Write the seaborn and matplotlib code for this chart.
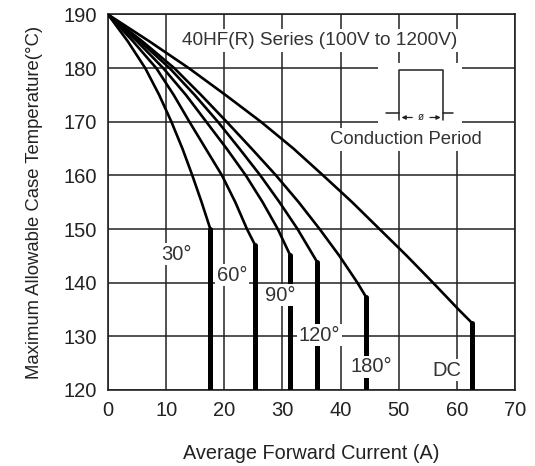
import matplotlib
matplotlib.use("Agg")
import matplotlib.pyplot as plt
import matplotlib.patches as patches
import seaborn as sns
import pandas as pd

# curve data (average forward current A, case temp degC)
labels = ["30°", "60°", "90°", "120°", "180°", "DC"]
cur_30 = [0, 3.4, 6.4, 8.8, 10.9, 12.8, 14.5, 16.1, 17.6]
tc_30 = [190, 185, 180, 175, 170, 165, 160, 155, 150]
cur_60 = [0, 4.3, 8.3, 11.3, 14.0, 16.8, 19.6, 21.9, 23.9, 25.3]
tc_60 = [190, 185, 180, 175, 170, 165, 160, 155, 150, 147.0]
cur_90 = [0, 5.0, 9.5, 13.4, 16.9, 20.4, 23.7, 26.6, 29.2, 31.3]
tc_90 = [190, 185, 180, 175, 170, 165, 160, 155, 150, 145.2]
cur_120 = [0, 5.5, 10.6, 14.9, 18.9, 22.6, 26.2, 29.5, 32.6, 36.0]
tc_120 = [190, 185, 180, 175, 170, 165, 160, 155, 150, 143.8]
cur_180 = [0, 5.9, 11.4, 16.0, 20.4, 24.7, 28.9, 32.8, 36.4, 39.8, 42.9, 44.4]
tc_180 = [190, 185, 180, 175, 170, 165, 160, 155, 150, 145, 140, 137.3]
cur_dc = [0, 7.1, 13.9, 20.2, 26.3, 31.9, 37.0, 42.0, 46.7, 51.4, 55.9, 60.3, 62.6]
tc_dc = [190, 185, 180, 175, 170, 165, 160, 155, 150, 145, 140, 135, 132.5]

# label positions for each curve
label_x = [11.8, 21.3, 29.6, 36.4, 45.3, 58.2]
label_y = [145.3, 141.4, 137.7, 130.2, 124.3, 123.7]

x_ticks = [0, 10, 20, 30, 40, 50, 60, 70]
y_ticks = [120, 130, 140, 150, 160, 170, 180, 190]

currents = [cur_30, cur_60, cur_90, cur_120, cur_180, cur_dc]
temps = [tc_30, tc_60, tc_90, tc_120, tc_180, tc_dc]

sns.set_style("white")
plt.rcParams["font.family"] = ["Liberation Sans", "DejaVu Sans"]

fig = plt.figure(figsize=(5.35, 4.66), dpi=100)
ax = fig.add_axes([0.2019, 0.1631, 0.7607, 0.8058])

for cur, tc in zip(currents, temps):
    df = pd.DataFrame({"I": cur, "T": tc})
    sns.lineplot(data=df, x="I", y="T", sort=False, estimator=None,
                 color="black", lw=1.9, ax=ax, zorder=3)
    # bold drop at the max current
    drop = pd.DataFrame({"I": [cur[-1], cur[-1]], "T": [tc[-1], y_ticks[0]]})
    sns.lineplot(data=drop, x="I", y="T", sort=False, estimator=None,
                 color="black", lw=3.6, ax=ax, zorder=3)

for lab, lx, ly in zip(labels, label_x, label_y):
    ax.text(lx, ly, lab, fontsize=14.5, color="#333333", ha="center", va="center",
            zorder=6, bbox=dict(facecolor="white", edgecolor="none", pad=1))

ax.set_xlim(0, 70)
ax.set_ylim(120, 190)
ax.set_xticks(x_ticks)
ax.set_yticks(y_ticks)
ax.grid(True, color="#222222", lw=1.1)
ax.set_axisbelow(True)
ax.tick_params(length=0, pad=8, labelsize=14.5, colors="#222222")
for s in ax.spines.values():
    s.set_color("#222222")
    s.set_linewidth(1.2)

ax.set_xlabel("Average Forward Current (A)", fontsize=14.3, color="#222222", labelpad=17)
ax.set_ylabel("Maximum Allowable Case Temperature(°C)", fontsize=13.3, color="#222222", labelpad=15)

# title box
ax.text(36.4, 185.2, "40HF(R) Series (100V to 1200V)", fontsize=13.7, color="#333333",
        ha="center", va="center", zorder=6,
        bbox=dict(facecolor="white", edgecolor="none", pad=2))

# conduction period inset
ax.add_patch(patches.Rectangle((46.4, 164.7), 14.4, 16.3, facecolor="white",
                               edgecolor="none", zorder=2))
ax.plot([47.8, 50.0, 50.0, 57.7, 57.7, 59.3],
        [171.7, 171.7, 179.6, 179.6, 171.7, 171.7], color="#222222", lw=1.1, zorder=4)
ax.plot([50.0, 50.0], [171.7, 170.3], color="#222222", lw=1.1, zorder=4)
ax.plot([57.7, 57.7], [171.7, 170.3], color="#222222", lw=1.1, zorder=4)
ax.annotate("", xy=(50.0, 170.8), xytext=(52.8, 170.8),
            arrowprops=dict(arrowstyle="-|>", color="#222222", lw=0.9,
                            mutation_scale=6), zorder=4)
ax.annotate("", xy=(57.7, 170.8), xytext=(54.9, 170.8),
            arrowprops=dict(arrowstyle="-|>", color="#222222", lw=0.9,
                            mutation_scale=6), zorder=4)
ax.text(53.85, 170.9, "ø", fontsize=7, ha="center", va="center", color="#222222", zorder=5)
ax.text(51.3, 166.7, "Conduction Period", fontsize=13.3, color="#333333",
        ha="center", va="center", zorder=6,
        bbox=dict(facecolor="white", edgecolor="none", pad=2))

fig.savefig("out.png", dpi=100)
